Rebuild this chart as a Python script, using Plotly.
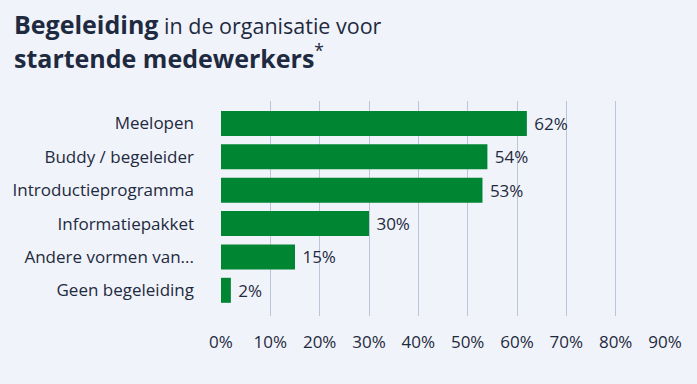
import plotly.graph_objects as go

categories = ["Meelopen", "Buddy / begeleider", "Introductieprogramma",
              "Informatiepakket", "Andere vormen van...", "Geen begeleiding"]
values = [62, 54, 53, 30, 15, 2]
tick_vals = [0, 10, 20, 30, 40, 50, 60, 70, 80, 90]
tick_text = [f"{v}%" for v in tick_vals]

BG = "#f0f3f9"
GREEN = "#008633"
TEXT = "#1e2a40"
GRID = "#bcc4d8"
FONT = "Open Sans"
FS = 17

W, H = 697, 384
ml, mr, mt, mb = 221, 32, 101, 68
pw = W - ml - mr
ph = H - mt - mb

fig = go.Figure(go.Bar(
    y=categories, x=values, orientation="h",
    marker=dict(color=GREEN, line=dict(width=0)),
    text=[f" {v}%" for v in values], textposition="outside",
    textfont=dict(color=TEXT, size=FS, family=FONT),
    cliponaxis=False, hoverinfo="skip",
))

fig.update_layout(
    width=W, height=H,
    paper_bgcolor=BG, plot_bgcolor=BG,
    margin=dict(l=ml, r=mr, t=mt, b=mb, autoexpand=False),
    bargap=0.25, showlegend=False,
    font=dict(family=FONT, color=TEXT, size=FS),
    xaxis=dict(range=[0, 90], tickvals=tick_vals, ticktext=tick_text,
               showgrid=True, gridcolor=GRID, gridwidth=1.2, zeroline=False,
               showline=False, ticks="", ticklabelstandoff=14, automargin=False,
               tickfont=dict(size=FS, color=TEXT, family=FONT), fixedrange=True),
    yaxis=dict(range=[5.77, -0.674], showgrid=False, zeroline=False,
               showline=False, ticks="", ticklabelstandoff=26, automargin=False,
               tickfont=dict(size=FS, color=TEXT, family=FONT), fixedrange=True),
)


def px(x, y):
    return (x - ml) / pw, (H - mb - y) / ph


title_lines = [
    ("<b>Begeleiding</b><span style='font-size:21.5px'> in de organisatie voor</span>", 12, 43),
    ("<b>startende medewerkers</b><sup>*</sup>", 12, 77),
]
for txt, x, y in title_lines:
    ax, ay = px(x, y)
    fig.add_annotation(text=txt, showarrow=False, xref="paper", yref="paper",
                       x=ax, y=ay, xanchor="left", yanchor="bottom",
                       font=dict(size=25, color=TEXT, family=FONT))

fig.write_html(
    "out.html",
    config={"displayModeBar": False},
    post_script="document.body.style.margin='0';document.body.style.background='%s';" % BG,
)
